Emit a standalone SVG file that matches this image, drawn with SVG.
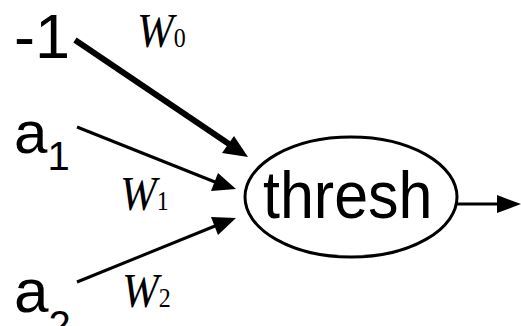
<svg xmlns="http://www.w3.org/2000/svg" width="521" height="326" viewBox="0 0 521 326">
<style>
.sans{font-family:"Liberation Sans",Arial,sans-serif;fill:#000}
.ser{font-family:"Liberation Serif","Times New Roman",serif;fill:#000}
.it{font-style:italic;font-size:44px}
.sub{font-size:24px}
.ln{stroke:#000;fill:none}
.hd{fill:#000;stroke:none}
</style>
<rect width="521" height="326" fill="#fff"/>
<g id="connectors">
<line class="ln" x1="75" y1="40" x2="229" y2="144" stroke-width="6"/>
<polygon class="hd" points="248,157 222,153 234,136"/>
<line class="ln" x1="77" y1="127" x2="215" y2="182" stroke-width="3"/>
<polygon class="hd" points="236,189 211,191 218,173"/>
<line class="ln" x1="77" y1="282" x2="215" y2="226" stroke-width="3"/>
<polygon class="hd" points="236,218 218,235 211,217"/>
<line class="ln" x1="457" y1="204" x2="500" y2="204" stroke-width="3"/>
<polygon class="hd" points="521,204 497,195 497,213"/>
</g>
<g id="in0"><text class="sans" x="14" y="58" font-size="63">-1</text></g>
<g id="in1"><text class="sans" x="14" y="153" font-size="60">a<tspan font-size="40" dy="17">1</tspan></text></g>
<g id="in2"><text class="sans" x="14" y="312" font-size="62">a<tspan font-size="40" dy="27">2</tspan></text></g>
<g id="w0" transform="translate(137,47) scale(1,1.12)"><text class="ser" x="0" y="0"><tspan class="it">W</tspan><tspan class="sub">0</tspan></text></g>
<g id="w1" transform="translate(120,210) scale(1,1.12)"><text class="ser" x="0" y="0"><tspan class="it">W</tspan><tspan class="sub">1</tspan></text></g>
<g id="w2" transform="translate(122,307) scale(1,1.12)"><text class="ser" x="0" y="0"><tspan class="it">W</tspan><tspan class="sub">2</tspan></text></g>
<g id="thresh">
<ellipse cx="351" cy="197" rx="106" ry="60" fill="#fff" stroke="#000" stroke-width="3"/>
<text class="sans" x="263" y="218" font-size="61" transform="translate(0,218) scale(1,1.1) translate(0,-218)">thresh</text>
</g>
</svg>
